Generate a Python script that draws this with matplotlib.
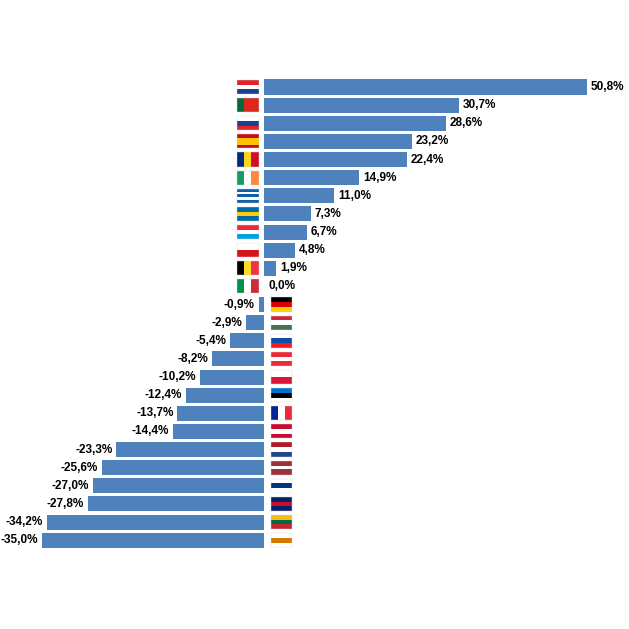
import matplotlib.pyplot as plt
from matplotlib.patches import Rectangle

countries = ['HR', 'PT', 'SI', 'ES', 'RO', 'IE', 'GR', 'SE', 'LU', 'CZ', 'BE', 'IT',
             'DE', 'HU', 'SK', 'AT', 'PL', 'EE', 'FR', 'DK', 'NL', 'LV', 'FI', 'UK', 'LT', 'CY']
values = [50.8, 30.7, 28.6, 23.2, 22.4, 14.9, 11.0, 7.3, 6.7, 4.8, 1.9, 0.0,
          -0.9, -2.9, -5.4, -8.2, -10.2, -12.4, -13.7, -14.4, -23.3, -25.6, -27.0, -27.8, -34.2, -35.0]

# simplified flags: (orientation, stripe colours)
flags = {
    'HR': ('h', ['#e0242c', '#ffffff', '#1b3f94']),
    'PT': ('v', ['#046a38', '#da291c', '#da291c']),
    'SI': ('h', ['#ffffff', '#1b3f94', '#e0242c']),
    'ES': ('h', ['#c60b1e', '#ffc400', '#ffc400', '#c60b1e']),
    'RO': ('v', ['#002b7f', '#fcd116', '#ce1126']),
    'IE': ('v', ['#169b62', '#ffffff', '#ff883e']),
    'GR': ('h', ['#0d5eaf', '#ffffff', '#0d5eaf', '#ffffff', '#0d5eaf']),
    'SE': ('h', ['#006aa7', '#fecc00', '#006aa7']),
    'LU': ('h', ['#ed2939', '#ffffff', '#00a1de']),
    'CZ': ('h', ['#ffffff', '#d7141a']),
    'BE': ('v', ['#000000', '#fdda24', '#ef3340']),
    'IT': ('v', ['#009246', '#ffffff', '#ce2b37']),
    'DE': ('h', ['#000000', '#dd0000', '#ffce00']),
    'HU': ('h', ['#ce2939', '#ffffff', '#477050']),
    'SK': ('h', ['#ffffff', '#0b4ea2', '#ee1c25']),
    'AT': ('h', ['#ed2939', '#ffffff', '#ed2939']),
    'PL': ('h', ['#ffffff', '#dc143c']),
    'EE': ('h', ['#0072ce', '#000000', '#ffffff']),
    'FR': ('v', ['#002395', '#ffffff', '#ed2939']),
    'DK': ('h', ['#c60c30', '#ffffff', '#c60c30']),
    'NL': ('h', ['#ae1c28', '#ffffff', '#21468b']),
    'LV': ('h', ['#9e3039', '#9e3039', '#ffffff', '#9e3039', '#9e3039']),
    'FI': ('h', ['#ffffff', '#003580', '#ffffff']),
    'UK': ('h', ['#012169', '#c8102e', '#012169']),
    'LT': ('h', ['#fdb913', '#006a44', '#c1272d']),
    'CY': ('h', ['#ffffff', '#d57800', '#ffffff']),
}

fig = plt.figure(figsize=(6.29, 6.29), dpi=100)
ax = fig.add_axes([0, 0, 1, 1])
n = len(values)
ys = list(range(n))
ax.barh(ys, values, height=0.83, color='#4f81bd')

for y, v, c in zip(ys, values, countries):
    lab = f'{v:.1f}%'.replace('.', ',')
    if v >= 0:
        ax.text(v + 0.6, y, lab, va='center', ha='left', fontsize=8.5,
                fontweight='bold', family='Liberation Sans')
        x0 = -4.3
    else:
        ax.text(v - 0.6, y, lab, va='center', ha='right', fontsize=8.5,
                fontweight='bold', family='Liberation Sans')
        x0 = 1.0
    orient, cols = flags[c]
    w, h = 3.4, 0.78
    k = len(cols)
    for i, col in enumerate(cols):
        if orient == 'h':
            r = Rectangle((x0, y - h / 2 + i * h / k), w, h / k, color=col, lw=0)
        else:
            r = Rectangle((x0 + i * w / k, y - h / 2), w / k, h, color=col, lw=0)
        ax.add_patch(r)
    ax.add_patch(Rectangle((x0, y - h / 2), w, h, fill=False, ec='#dddddd', lw=0.3))

ax.set_xlim(-41.6, 57.4)
ax.set_ylim(29.9, -4.8)
ax.axis('off')
fig.savefig('out.png', dpi=100)
